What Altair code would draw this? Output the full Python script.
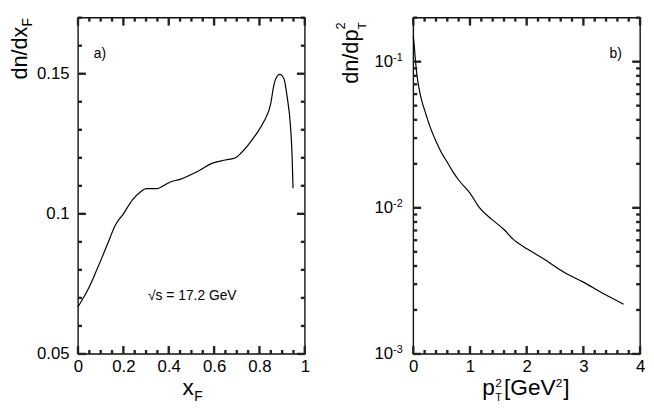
import altair as alt
import pandas as pd

FONT = "Liberation Sans"
W, H = 230, 341

# ---- panel a) dn/dxF vs xF
xf = [0.0, 0.02, 0.05, 0.08, 0.10, 0.13, 0.165, 0.2, 0.24, 0.275, 0.30, 0.35, 0.38,
      0.405, 0.45, 0.49, 0.535, 0.59, 0.65, 0.695, 0.72, 0.78, 0.82, 0.85, 0.862,
      0.872, 0.89, 0.908, 0.922, 0.937, 0.944, 0.948]
dndxf = [0.0668, 0.0695, 0.0740, 0.0795, 0.0833, 0.0892, 0.0960, 0.1000, 0.1050, 0.1078,
         0.1090, 0.1090, 0.1102, 0.1113, 0.1123, 0.1137, 0.1155, 0.1180, 0.1192, 0.1200,
         0.1218, 0.1278, 0.1330, 0.1394, 0.1453, 0.1482, 0.1498, 0.1482, 0.1418, 0.1311,
         0.1206, 0.1091]

# ---- panel b) dn/dpT2 vs pT2
pt2 = [0.0, 0.02, 0.04, 0.07, 0.10, 0.15, 0.2, 0.3, 0.4, 0.5, 0.6, 0.7, 0.8, 1.0,
       1.16, 1.39, 1.6, 1.76, 2.02, 2.31, 2.66, 3.0, 3.35, 3.71]
dndpt2 = [0.15, 0.125, 0.100, 0.078, 0.066, 0.054, 0.0466, 0.0355, 0.0285, 0.0237,
          0.0205, 0.0176, 0.0155, 0.0126, 0.0101, 0.0083, 0.0071, 0.0061, 0.0052,
          0.00445, 0.00362, 0.0031, 0.00259, 0.00219]

# ---- tick values
xa_major = [0, 0.2, 0.4, 0.6, 0.8, 1.0]
xa_minor = [0.05, 0.1, 0.15, 0.25, 0.3, 0.35, 0.45, 0.5, 0.55, 0.65, 0.7, 0.75, 0.85, 0.9, 0.95]
ya_major = [0.05, 0.1, 0.15]
ya_minor = [0.06, 0.07, 0.08, 0.09, 0.11, 0.12, 0.13, 0.14, 0.16, 0.17]
xb_major = [0, 1, 2, 3, 4]
xb_minor = [0.2, 0.4, 0.6, 0.8, 1.2, 1.4, 1.6, 1.8, 2.2, 2.4, 2.6, 2.8, 3.2, 3.4, 3.6, 3.8]
yb_major = [0.001, 0.01, 0.1]
yb_exp = ["-3", "-2", "-1"]
yb_minor = [0.002, 0.003, 0.004, 0.005, 0.006, 0.007, 0.008, 0.009,
            0.02, 0.03, 0.04, 0.05, 0.06, 0.07, 0.08, 0.09, 0.2]

annot_a = ["√s = 17.2 GeV"]

TICK = dict(color="#222222", strokeWidth=2.4)


def panel(xv, yv, xs, ys, xmaj, xmin, ymaj, ymin, xaxis, yaxis):
    df = pd.DataFrame({"x": xv, "y": yv})
    line = alt.Chart(df).mark_line(color="black", strokeWidth=1.2, interpolate="monotone").encode(
        x=alt.X("x:Q", scale=xs, axis=xaxis, title=""),
        y=alt.Y("y:Q", scale=ys, axis=yaxis, title=""),
    )
    layers = [line]
    for vals, ln in ((xmaj, 8), (xmin, 4)):
        d = pd.DataFrame({"tx": vals})
        layers.append(alt.Chart(d).mark_rule(**TICK).encode(
            x=alt.X("tx:Q", scale=xs), y=alt.value(H), y2=alt.value(H - ln)))
        layers.append(alt.Chart(d).mark_rule(**TICK).encode(
            x=alt.X("tx:Q", scale=xs), y=alt.value(0), y2=alt.value(ln)))
    for vals, ln in ((ymaj, 8), (ymin, 4)):
        d = pd.DataFrame({"ty": vals})
        layers.append(alt.Chart(d).mark_rule(**TICK).encode(
            y=alt.Y("ty:Q", scale=ys), x=alt.value(0), x2=alt.value(ln)))
        layers.append(alt.Chart(d).mark_rule(**TICK).encode(
            y=alt.Y("ty:Q", scale=ys), x=alt.value(W - ln), x2=alt.value(W)))
    return layers


def txt(s, x, y, size, align="left", baseline="alphabetic", angle=0):
    d = pd.DataFrame({"t": [s]})
    mk = alt.Chart(d).mark_text(font=FONT, fontSize=size, align=align, baseline=baseline,
                                angle=angle, color="black")
    return mk.encode(text="t:N", x=alt.value(x), y=alt.value(y))


def axis(vals, pad, **kw):
    return alt.Axis(values=vals, labelPadding=pad, labelFontSize=17, labelFont=FONT,
                    labelColor="black", domain=False, ticks=False, grid=False, **kw)


# ---- left panel
xsa = alt.Scale(domain=[0, 1], nice=False, zero=False)
ysa = alt.Scale(domain=[0.05, 0.17], nice=False, zero=False)
la = panel(xf, dndxf, xsa, ysa, xa_major, xa_minor, ya_major, ya_minor,
           axis(xa_major, 5, format="~g", labelFlush=False), axis(ya_major, 9, format="~g"))
la += [
    txt("dn/dx", -52, 9, 22, align="right", angle=270),
    txt("F", -47, 9, 14, align="left", angle=270),
    txt("x", 106, 383, 23),
    txt("F", 118, 389, 14),
    txt("a)", 16, 37, 14, baseline="middle"),
    txt(annot_a[0], 71, 282, 14, baseline="middle"),
]
left = alt.layer(*la).properties(width=W, height=H)

# ---- right panel
xsb = alt.Scale(domain=[0, 4], nice=False, zero=False)
ysb = alt.Scale(type="log", domain=[0.001, 0.2], nice=False)
lb = panel(pt2, dndpt2, xsb, ysb, xb_major, xb_minor, yb_major, yb_minor,
           axis(xb_major, 5, format="~g", labelFlush=False), axis(yb_major, 21, labelExpr="'10'"))
exp_df = pd.DataFrame({"ey": yb_major, "e": yb_exp})
lb.append(alt.Chart(exp_df).mark_text(font=FONT, fontSize=11, align="left", baseline="middle",
                                      dy=-4, color="black").encode(
    y=alt.Y("ey:Q", scale=ysb), x=alt.value(-20.5), text="e:N"))
lb += [
    txt("dn/dp", -56, 12, 22, align="right", angle=270),
    txt("2", -69, 12, 13, align="left", angle=270),
    txt("T", -48, 12, 12, align="left", angle=270),
    txt("p", 70, 383, 23),
    txt("2", 83, 375, 12),
    txt("T", 83, 389, 11),
    txt("[GeV", 92, 383, 23),
    txt("2", 144.5, 375, 12),
    txt("]", 152, 383, 23),
    txt("b)", 199, 37, 14, baseline="middle"),
]
right = alt.layer(*lb).properties(width=W, height=H)

chart = alt.hconcat(left, right, spacing=24).properties(
    padding={"left": 0, "top": 5, "right": 0, "bottom": 0}
).configure_view(stroke="#111111", strokeWidth=1.4)

chart.save("out.html", embed_options={"renderer": "svg", "actions": False})
